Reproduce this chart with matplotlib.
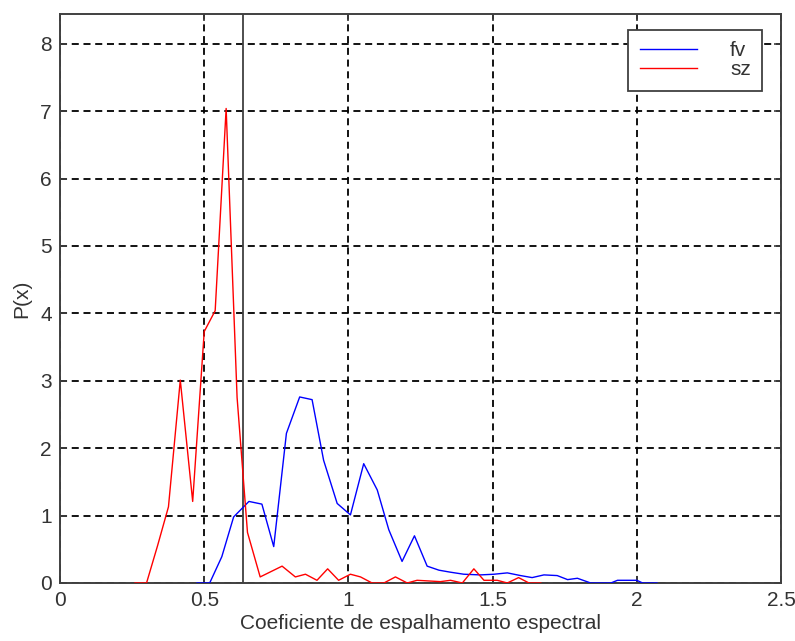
import numpy as np
import matplotlib
matplotlib.use('Agg')
import matplotlib.pyplot as plt

plt.rcParams['font.family'] = ['Liberation Sans', 'DejaVu Sans']

# fv curve
fv_x = [0.475, 0.519, 0.561, 0.602, 0.655, 0.700, 0.741, 0.785, 0.831, 0.874,
        0.914, 0.961, 1.007, 1.053, 1.100, 1.140, 1.186, 1.229, 1.273, 1.314,
        1.354, 1.400, 1.458, 1.505, 1.551, 1.597, 1.637, 1.678, 1.724, 1.760,
        1.794, 1.840, 1.910, 1.933, 2.000, 2.020, 2.070]
fv_y = [0.0, 0.0, 0.39, 0.98, 1.21, 1.17, 0.54, 2.22, 2.76, 2.72,
        1.82, 1.18, 1.01, 1.77, 1.38, 0.79, 0.32, 0.70, 0.25, 0.19,
        0.16, 0.13, 0.12, 0.13, 0.15, 0.11, 0.08, 0.12, 0.11, 0.05,
        0.07, 0.0, 0.0, 0.04, 0.04, 0.0, 0.0]

# sz curve
sz_x = [0.260, 0.300, 0.338, 0.376, 0.417, 0.460, 0.500, 0.538, 0.576, 0.614,
        0.650, 0.694, 0.732, 0.770, 0.816, 0.851, 0.891, 0.928, 0.966, 1.007,
        1.042, 1.082, 1.123, 1.163, 1.204, 1.238, 1.279, 1.319, 1.354, 1.395,
        1.435, 1.470, 1.516, 1.551, 1.590, 1.626, 1.667]
sz_y = [0.0, 0.0, 0.55, 1.13, 3.01, 1.21, 3.73, 4.04, 7.04, 2.75,
        0.75, 0.09, 0.17, 0.25, 0.09, 0.13, 0.04, 0.21, 0.04, 0.13,
        0.09, 0.0, 0.0, 0.09, 0.0, 0.04, 0.03, 0.02, 0.04, 0.0,
        0.21, 0.04, 0.04, 0.0, 0.08, 0.0, 0.0]

threshold = 0.634

xticks = [0, 0.5, 1, 1.5, 2, 2.5]
xticklabels = ['0', '0.5', '1', '1.5', '2', '2.5']
yticks = [0, 1, 2, 3, 4, 5, 6, 7, 8]

axcol = '#404040'
txtcol = '#333333'

fig = plt.figure(figsize=(7.95, 6.41), dpi=100)
ax = fig.add_axes([0.0755, 0.0905, 0.9069, 0.8875])

ax.plot(fv_x, fv_y, color='#0000ff', lw=1.0, label='fv', zorder=3)
ax.plot(sz_x, sz_y, color='#ff0000', lw=1.0, label='sz', zorder=3)
ax.axvline(threshold, color=axcol, lw=1.3, zorder=2)

ax.set_xlim(0, 2.5)
ax.set_ylim(0, 8.44)
ax.set_xticks(xticks)
ax.set_xticklabels(xticklabels)
ax.set_yticks(yticks)

ax.grid(True, color='black', lw=1.3, linestyle=(0, (3.9, 2.6)))
ax.set_axisbelow(True)

for s in ax.spines.values():
    s.set_color(axcol)
    s.set_linewidth(1.4)

ax.tick_params(direction='in', length=5, width=1.2, colors=axcol,
               labelcolor=txtcol, labelsize=15, top=True, right=True, pad=6)

ax.set_xlabel('Coeficiente de espalhamento espectral', fontsize=15, color=txtcol, labelpad=3)
ax.set_ylabel('P(x)', fontsize=15, color=txtcol, labelpad=6)

leg = ax.legend(loc='upper right', bbox_to_anchor=(0.974, 0.972), borderaxespad=0,
                fontsize=15, handlelength=2.74, handletextpad=1.6, labelspacing=0.0,
                borderpad=0.55, fancybox=False, framealpha=1, edgecolor=axcol)
leg.get_frame().set_linewidth(1.3)
for t in leg.get_texts():
    t.set_color(txtcol)

fig.savefig('out.png', dpi=100)
